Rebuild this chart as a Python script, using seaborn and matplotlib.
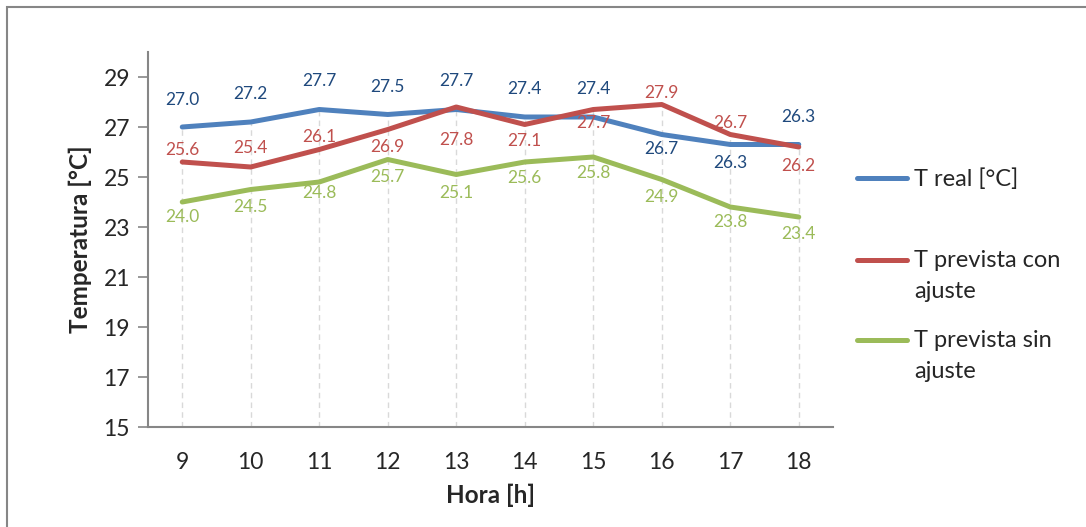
import seaborn as sns
import matplotlib.pyplot as plt
import pandas as pd
from matplotlib.lines import Line2D
from matplotlib.patches import Rectangle

horas = [9, 10, 11, 12, 13, 14, 15, 16, 17, 18]
t_real = [27.0, 27.2, 27.7, 27.5, 27.7, 27.4, 27.4, 26.7, 26.3, 26.3]
t_con = [25.6, 25.4, 26.1, 26.9, 27.8, 27.1, 27.7, 27.9, 26.7, 26.2]
t_sin = [24.0, 24.5, 24.8, 25.7, 25.1, 25.6, 25.8, 24.9, 23.8, 23.4]
series = ['T real [°C]', 'T prevista con\najuste', 'T prevista sin\najuste']

# label offsets in pixels (excel placed them by hand, more or less)
off_real = [27, 28, 28, 28, 28, 28, 28, -14, -18, 28]
off_con = [12, 19, 13, -17, -33, -16, -14, 11, 12, -19]
off_sin = [-15, -18, -11, -18, -18, -16, -16, -18, -15, -17]

line_cols = ['#4F81BD', '#C0504D', '#9BBB59']
text_cols = ['#1F497D', '#C0504D', '#9BBB59']

df = pd.DataFrame({
    'hora': horas * 3,
    'temp': t_real + t_con + t_sin,
    'serie': [series[0]] * 10 + [series[1]] * 10 + [series[2]] * 10,
})

sns.set_style('white')
plt.rcParams['font.family'] = ['Lato', 'DejaVu Sans']

fig = plt.figure(figsize=(10.86, 5.27), dpi=100)
ax = fig.add_axes([148 / 1086, 100 / 527, 685 / 1086, 375 / 527])

# drop lines from top point down to axis
tops = [max(a, b, c) for a, b, c in zip(t_real, t_con, t_sin)]
ax.vlines(horas, 15, tops, colors='#D9D9D9', linestyles=(0, (4, 3)), lw=1, zorder=1)

sns.lineplot(data=df, x='hora', y='temp', hue='serie', palette=line_cols,
             lw=3.6, legend=False, ax=ax, zorder=3)
for l in ax.lines:
    l.set_solid_capstyle('round')
    l.set_solid_joinstyle('round')

for vals, offs, col in zip([t_real, t_con, t_sin], [off_real, off_con, off_sin], text_cols):
    for h, v, o in zip(horas, vals, offs):
        ax.annotate(f'{v:.1f}', (h, v), xytext=(0, o), textcoords='offset pixels',
                    ha='center', va='center', color=col, fontsize=12.5, zorder=4)

ax.set_xlim(8.5, 18.5)
ax.set_ylim(15, 30)
ax.set_yticks(range(15, 30, 2))
ax.set_xticks(horas)
ax.tick_params(axis='y', length=7, width=1.2, color='#868686', labelsize=16.5, pad=6, left=True)
ax.tick_params(axis='x', length=0, labelsize=16.5, pad=18)
for s in ['top', 'right']:
    ax.spines[s].set_visible(False)
for s in ['left', 'bottom']:
    ax.spines[s].set_color('#868686')
    ax.spines[s].set_linewidth(1.5)

ax.set_xlabel('Hora [h]', fontsize=17.5, fontweight='bold', labelpad=8)
ax.set_ylabel('Temperatura [°C]', fontsize=17.5, fontweight='bold', labelpad=8)

# legend drawn by hand to match spacing
leg_y = [178, 260, 340]
for y, lab, col in zip(leg_y, series, line_cols):
    yf = 1 - y / 527
    fig.add_artist(Line2D([857 / 1086, 907 / 1086], [yf, yf], color=col, lw=3.6,
                          solid_capstyle='round', transform=fig.transFigure))
    fig.text(914 / 1086, yf + 10 / 527, lab, fontsize=17, va='top', ha='left',
             linespacing=1.6, transform=fig.transFigure)

# chart border
fig.add_artist(Rectangle((7 / 1086, -0.1), 1.2, 1.1 - 7 / 527, fill=False,
                         edgecolor='#868686', lw=1.5, transform=fig.transFigure))

fig.savefig('out.png', dpi=100)
